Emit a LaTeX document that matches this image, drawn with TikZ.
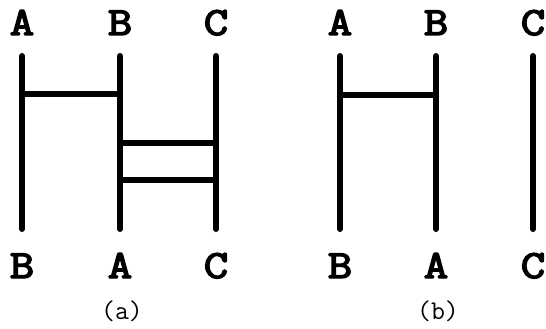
\documentclass[tikz,border=0pt]{standalone}
\usepackage{fontspec}
\usepackage{graphicx}
\newfontfamily\lblfont[FakeBold=3.5]{Latin Modern Mono}
\newfontfamily\capfont{Latin Modern Mono}
\newcommand\widelbl[1]{\scalebox{1.18}[1]{#1}}
\begin{document}
\begin{tikzpicture}[x=1pt,y=-1pt,
  lbl/.style={font=\lblfont\fontsize{40}{40}\selectfont, anchor=base, inner sep=0pt},
  captext/.style={font=\capfont\fontsize{27}{27}\selectfont, anchor=base, inner sep=0pt},
  wire/.style={line width=6pt, line cap=round},
  rung/.style={line width=6pt, line cap=butt}]
\useasboundingbox (0,0) rectangle (546,329);
% (a)
\node[lbl] (ta1) at (22,35) {\widelbl{A}};
\node[lbl] (ta2) at (120,35) {\widelbl{B}};
\node[lbl] (ta3) at (216,35) {\widelbl{C}};
\node[lbl] (ba1) at (22,278) {\widelbl{B}};
\node[lbl] (ba2) at (120,278) {\widelbl{A}};
\node[lbl] (ba3) at (216,278) {\widelbl{C}};
\node[captext] (capa) at (122,319) {(a)};
\foreach \i/\x in {1/22,2/120,3/216}{
  \coordinate (ua\i) at (\x,56);
  \coordinate (da\i) at (\x,229);
  \draw[wire] (ua\i) -- (da\i);
}
\coordinate (r1l) at (22,94);
\coordinate (r1r) at (120,94);
\coordinate (r2l) at (120,143);
\coordinate (r2r) at (216,143);
\coordinate (r3l) at (120,180);
\coordinate (r3r) at (216,180);
\draw[rung] (r1l) -- (r1r);
\draw[rung] (r2l) -- (r2r);
\draw[rung] (r3l) -- (r3r);
% (b)
\node[lbl] (tb1) at (340,35) {\widelbl{A}};
\node[lbl] (tb2) at (436,35) {\widelbl{B}};
\node[lbl] (tb3) at (533,35) {\widelbl{C}};
\node[lbl] (bb1) at (340,278) {\widelbl{B}};
\node[lbl] (bb2) at (436,278) {\widelbl{A}};
\node[lbl] (bb3) at (533,278) {\widelbl{C}};
\node[captext] (capb) at (438,319) {(b)};
\foreach \i/\x in {1/340,2/436,3/533}{
  \coordinate (ub\i) at (\x,56);
  \coordinate (db\i) at (\x,229);
  \draw[wire] (ub\i) -- (db\i);
}
\coordinate (s1l) at (340,95);
\coordinate (s1r) at (436,95);
\draw[rung] (s1l) -- (s1r);
\end{tikzpicture}
\end{document}
